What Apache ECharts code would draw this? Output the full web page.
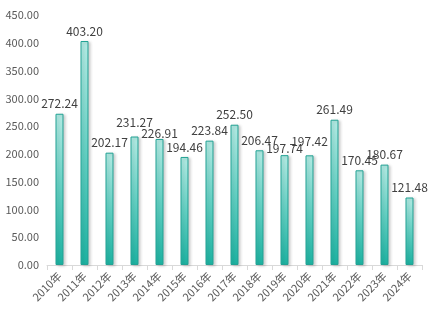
<!DOCTYPE html>
<html>
<head>
<meta charset="utf-8">
<script src="https://cdn.jsdelivr.net/npm/echarts@6/dist/echarts.min.js"></script>
<style>
  html, body { margin: 0; padding: 0; background: #ffffff; }
  #chart { width: 431px; height: 331px; }
</style>
</head>
<body>
<div id="chart"></div>
<script>
// Annual values, 2010–2024
const years = ['2010年', '2011年', '2012年', '2013年', '2014年', '2015年', '2016年', '2017年',
               '2018年', '2019年', '2020年', '2021年', '2022年', '2023年', '2024年'];
const values = [272.24, 403.20, 202.17, 231.27, 226.91, 194.46, 223.84, 252.50,
                206.47, 197.74, 197.42, 261.49, 170.45, 180.67, 121.48];

const FONT = '"Noto Sans CJK SC", "Noto Sans", sans-serif';

// Vertical nudges (px) that keep neighbouring value labels from colliding
const labelNudge = { 3: -4, 4: 4, 9: 3, 10: -4 };

const barData = values.map((v, i) => {
  const item = { value: v };
  if (labelNudge[i] !== undefined) item.label = { offset: [0, labelNudge[i]] };
  return item;
});

const chart = echarts.init(document.getElementById('chart'), null, { renderer: 'canvas' });

chart.setOption({
  backgroundColor: '#ffffff',
  animation: false,
  grid: { left: 47, right: 9, top: 15, bottom: 66 },
  xAxis: {
    type: 'category',
    data: years,
    boundaryGap: true,
    axisLine: { lineStyle: { color: '#d9d9d9', width: 1 } },
    axisTick: { show: true, alignWithLabel: false, length: 5, lineStyle: { color: '#d9d9d9' } },
    axisLabel: {
      rotate: 45,
      interval: 0,
      color: '#595959',
      fontSize: 11,
      fontFamily: FONT,
      margin: 9
    }
  },
  yAxis: {
    type: 'value',
    min: 0,
    max: 450,
    interval: 50,
    axisLine: { show: false },
    axisTick: { show: false },
    splitLine: { show: false },
    axisLabel: {
      color: '#595959',
      fontSize: 11,
      fontFamily: FONT,
      margin: 8,
      formatter: v => v.toFixed(2)
    }
  },
  series: [{
    type: 'bar',
    data: barData,
    barWidth: 8,
    itemStyle: {
      color: new echarts.graphic.LinearGradient(0, 0, 0, 1, [
        { offset: 0, color: '#b3ebe4' },
        { offset: 0.5, color: '#63d0c3' },
        { offset: 1, color: '#1db3a2' }
      ]),
      borderColor: '#22a294',
      borderWidth: 1,
      shadowColor: 'rgba(0,0,0,0.18)',
      shadowBlur: 3,
      shadowOffsetX: 2,
      shadowOffsetY: 1
    },
    label: {
      show: true,
      position: 'top',
      distance: 4,
      color: '#404040',
      fontSize: 12,
      fontFamily: FONT,
      formatter: p => p.value.toFixed(2)
    }
  }]
});
</script>
</body>
</html>
